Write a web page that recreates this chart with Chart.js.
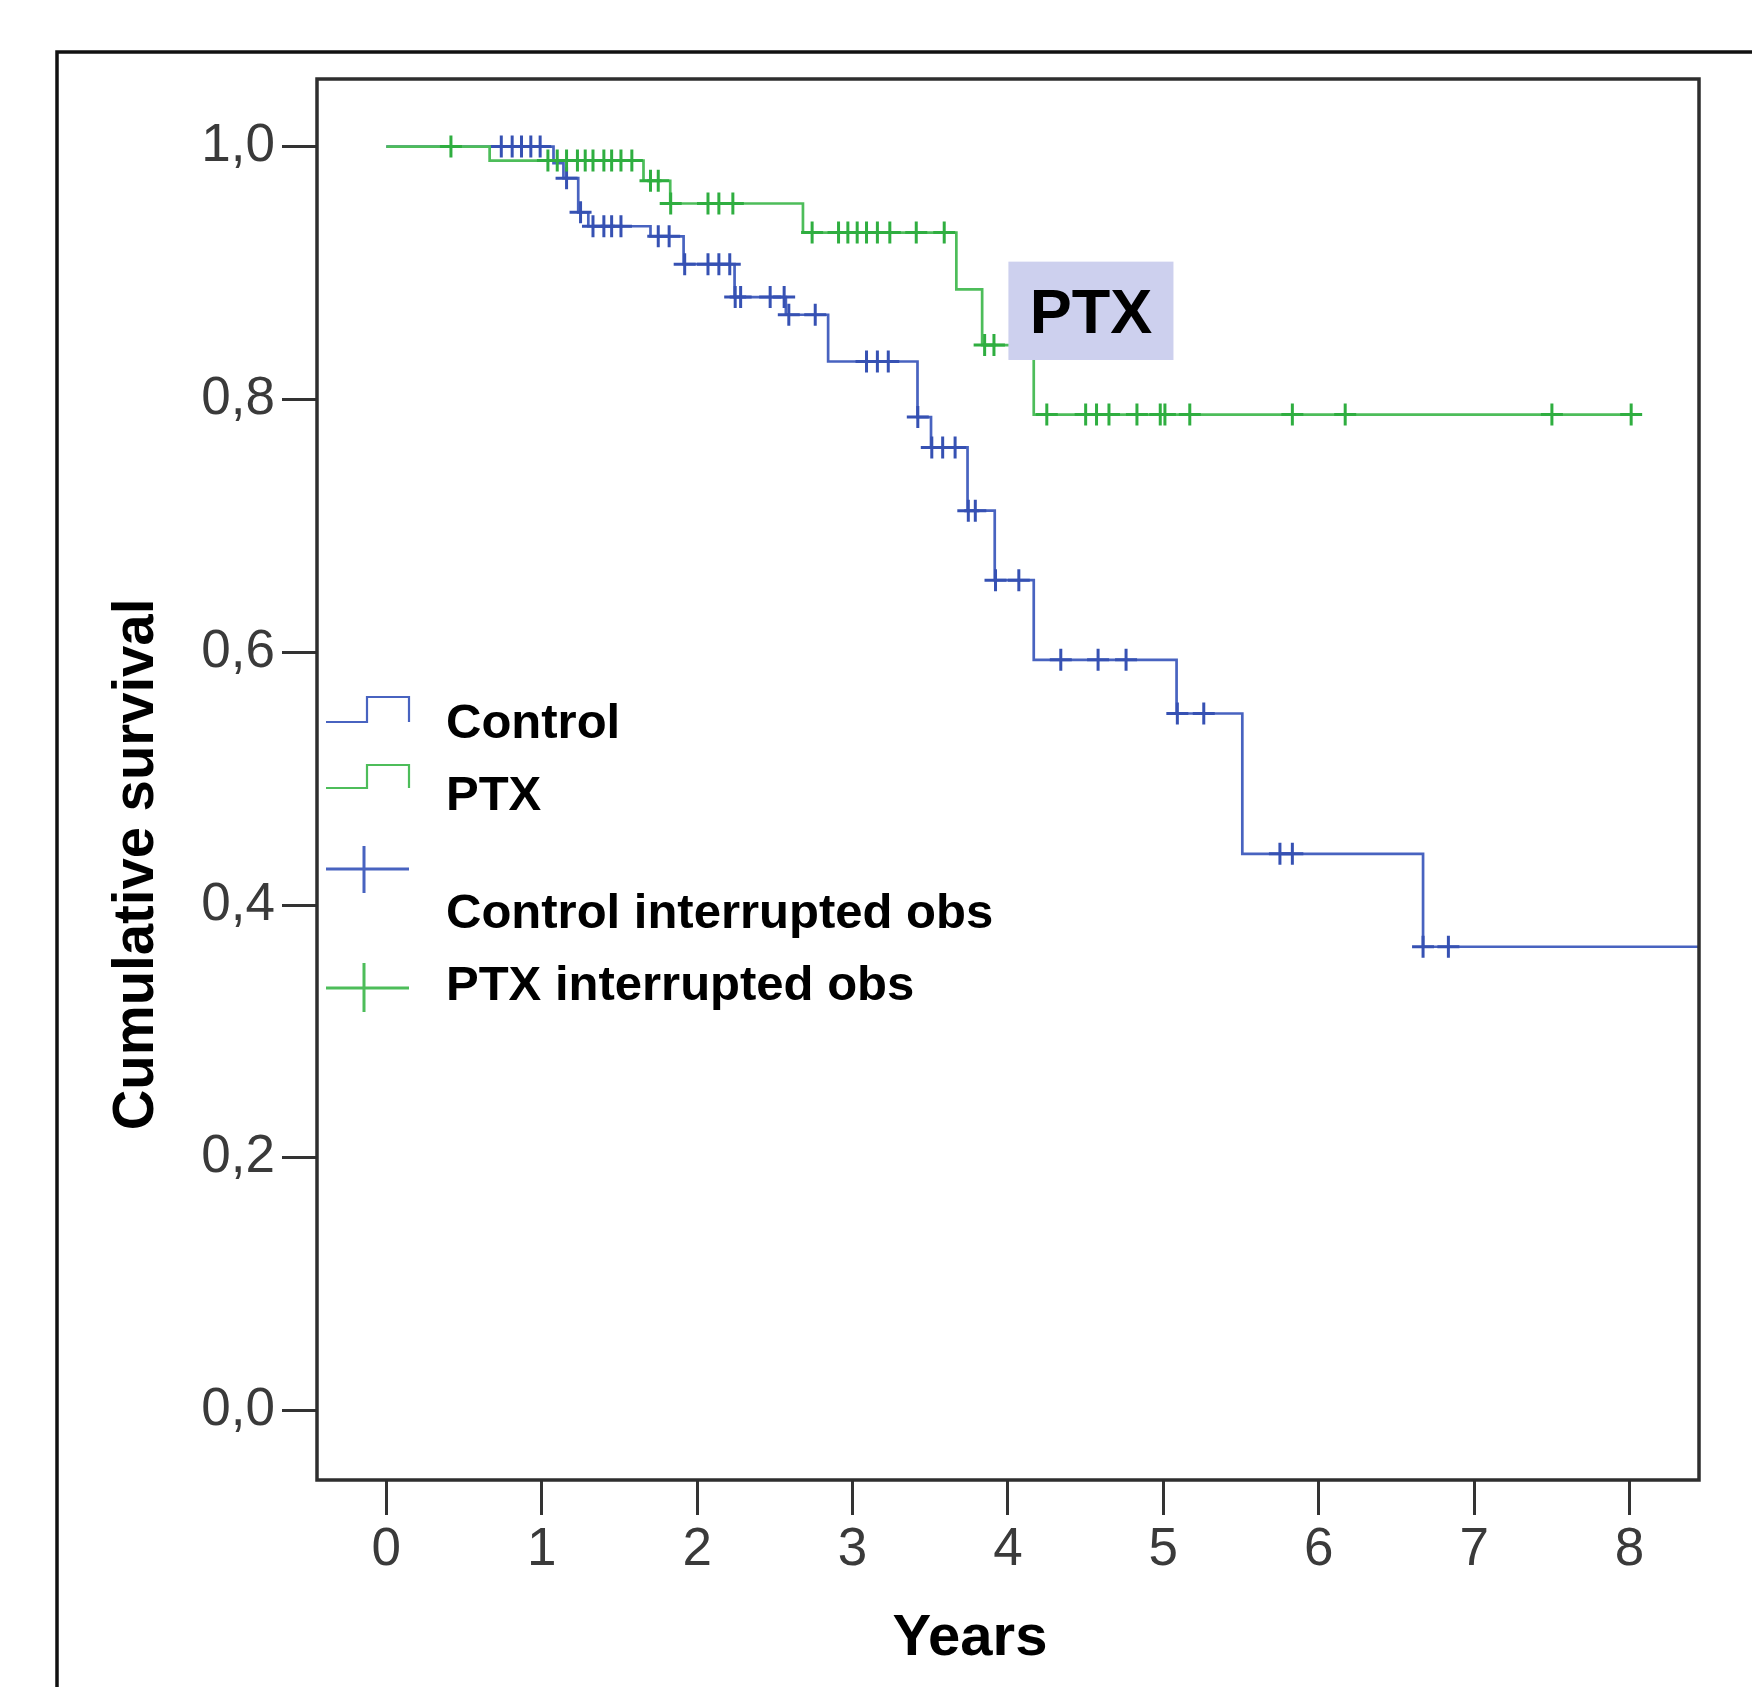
<!DOCTYPE html>
<html><head><meta charset="utf-8">
<script src="https://cdn.jsdelivr.net/npm/chart.js@4.4.1/dist/chart.umd.min.js"></script>
<style>html,body{margin:0;padding:0;background:#fff;} canvas{display:block;}</style>
</head><body>
<canvas id="c" width="1752" height="1687"></canvas>
<script>
// ---- data ----
const xTicks = [0, 1, 2, 3, 4, 5, 6, 7, 8];
const xTickLabels = ['0', '1', '2', '3', '4', '5', '6', '7', '8'];
const yTicks = [0, 0.2, 0.4, 0.6, 0.8, 1.0];
const yTickLabels = ['0,0', '0,2', '0,4', '0,6', '0,8', '1,0'];

// Control group: Kaplan-Meier step points (time in years, cumulative survival)
const controlTimes = [0, 1.076, 1.14, 1.235, 1.30, 1.70, 1.913, 2.241, 2.571, 2.843, 3.418, 3.505, 3.74, 3.915, 4.166, 5.085, 5.508, 6.671, 8.45];
const controlSurv  = [1.0, 0.987, 0.975, 0.948, 0.937, 0.929, 0.907, 0.881, 0.867, 0.830, 0.786, 0.762, 0.712, 0.657, 0.594, 0.5515, 0.4405, 0.367, 0.367];
const controlCensored = [0.74, 0.81, 0.87, 0.93, 0.99, 1.16, 1.25, 1.33, 1.40, 1.45, 1.51, 1.75, 1.82, 1.92, 2.07, 2.14, 2.21, 2.245, 2.28, 2.47, 2.56, 2.59, 2.76, 3.09, 3.16, 3.23, 3.42, 3.51, 3.58, 3.66, 3.745, 3.79, 3.92, 4.07, 4.34, 4.58, 4.76, 5.09, 5.26, 5.75, 5.83, 6.671, 6.834];

// PTX group
const ptxTimes = [0, 0.665, 1.655, 1.827, 2.681, 3.668, 3.834, 4.166, 8.01];
const ptxSurv  = [1.0, 0.989, 0.973, 0.955, 0.932, 0.887, 0.843, 0.788, 0.788];
const ptxCensored = [0.416, 1.04, 1.10, 1.16, 1.23, 1.28, 1.33, 1.40, 1.45, 1.51, 1.58, 1.70, 1.75, 1.83, 2.07, 2.14, 2.23, 2.74, 2.91, 2.97, 3.03, 3.09, 3.16, 3.24, 3.41, 3.59, 3.85, 3.91, 4.25, 4.50, 4.57, 4.65, 4.83, 4.98, 5.01, 5.17, 5.83, 6.17, 7.50, 8.01];

const seriesNames = ['Control', 'PTX', 'Control interrupted obs', 'PTX interrupted obs'];
const annotationText = 'PTX';
const xTitle = 'Years';
const yTitle = 'Cumulative survival';

// ---- helpers ----
function survAt(times, surv, t) {
  let v = surv[0];
  for (let i = 0; i < times.length; i++) { if (times[i] <= t + 1e-9) v = surv[i]; }
  return v;
}
const pts = (ts, ss) => ts.map((t, i) => ({x: t, y: ss[i]}));
const censorPts = (cs, ts, ss) => cs.map(t => ({x: t, y: survAt(ts, ss, t)}));

const BLUE_LINE = '#4863c0', BLUE_MARK = '#3651b3';
const GREEN_LINE = '#4dbd5a', GREEN_MARK = '#2fae40';
const FONT = "'Liberation Sans', Arial, sans-serif";

const decor = {
  id: 'decor',
  beforeDraw(chart) {
    const c = chart.ctx;
    c.save(); c.fillStyle = '#fff'; c.fillRect(0, 0, chart.width, chart.height); c.restore();
  },
  afterDatasetsDraw(chart) {
    const c = chart.ctx, xs = chart.scales.x, ys = chart.scales.y, ca = chart.chartArea;
    // annotation box
    const bx0 = xs.getPixelForValue(4.003), bx1 = xs.getPixelForValue(5.065);
    const by0 = ys.getPixelForValue(0.909), by1 = ys.getPixelForValue(0.8312);
    c.save();
    c.fillStyle = '#cdd0ee';
    c.fillRect(bx0, by0, bx1 - bx0, by1 - by0);
    c.fillStyle = '#000';
    c.font = 'bold 63px ' + FONT;
    c.textAlign = 'center'; c.textBaseline = 'alphabetic';
    c.fillText(annotationText, xs.getPixelForValue(4.535), ys.getPixelForValue(0.8528));
    c.restore();
    // plot frame
    c.save();
    c.strokeStyle = '#2e2e2e'; c.lineWidth = 3.5;
    c.strokeRect(ca.left, ca.top, ca.right - ca.left, ca.bottom - ca.top);
    c.restore();
  },
  afterDraw(chart) {
    const c = chart.ctx, ca = chart.chartArea;
    c.save();
    // outer frame (cropped at right & bottom)
    c.strokeStyle = '#111'; c.lineWidth = 3.5;
    c.beginPath(); c.moveTo(57, chart.height + 5); c.lineTo(57, 52); c.lineTo(chart.width + 5, 52); c.stroke();

    // axis titles
    c.fillStyle = '#000';
    c.font = 'bold 58px ' + FONT;
    c.textAlign = 'center'; c.textBaseline = 'alphabetic';
    c.fillText(xTitle, 970, 1655);
    c.save();
    c.translate(153, 864.5);
    c.rotate(-Math.PI / 2);
    c.font = 'bold 58px ' + FONT;
    c.scale(0.97, 1);
    c.fillText(yTitle, 0, 0);
    c.restore();

    // legend
    const lx0 = ca.left + 9, lxm = ca.left + 50, lx1 = ca.left + 92, tx = ca.left + 129;
    c.lineWidth = 2.2;
    c.strokeStyle = BLUE_LINE;
    c.beginPath(); c.moveTo(lx0, 722); c.lineTo(lxm, 722); c.lineTo(lxm, 697); c.lineTo(lx1, 697); c.lineTo(lx1, 722); c.stroke();
    c.strokeStyle = GREEN_LINE;
    c.beginPath(); c.moveTo(lx0, 788); c.lineTo(lxm, 788); c.lineTo(lxm, 765); c.lineTo(lx1, 765); c.lineTo(lx1, 788); c.stroke();
    c.strokeStyle = BLUE_LINE; c.lineWidth = 3;
    c.beginPath(); c.moveTo(lx0, 869); c.lineTo(lx1, 869); c.moveTo(ca.left + 47, 846); c.lineTo(ca.left + 47, 893); c.stroke();
    c.strokeStyle = GREEN_LINE;
    c.beginPath(); c.moveTo(lx0, 988); c.lineTo(lx1, 988); c.moveTo(ca.left + 47, 963); c.lineTo(ca.left + 47, 1012); c.stroke();

    c.fillStyle = '#000';
    c.font = 'bold 49px ' + FONT;
    c.textAlign = 'left'; c.textBaseline = 'alphabetic';
    c.fillText(seriesNames[0], tx, 738);
    c.fillText(seriesNames[1], tx, 810);
    c.fillText(seriesNames[2], tx, 928);
    c.fillText(seriesNames[3], tx, 1000);
    c.restore();
  }
};

const tickFont = {family: FONT, size: 53};

new Chart(document.getElementById('c'), {
  type: 'scatter',
  data: {
    datasets: [
      {label: seriesNames[3], data: censorPts(ptxCensored, ptxTimes, ptxSurv), showLine: false,
       pointStyle: 'cross', pointRadius: 11, pointHoverRadius: 11, pointBorderWidth: 3,
       borderColor: GREEN_MARK, backgroundColor: GREEN_MARK, order: 0},
      {label: seriesNames[1], data: pts(ptxTimes, ptxSurv), showLine: true, stepped: 'before',
       borderColor: GREEN_LINE, borderWidth: 2.7, pointRadius: 0, pointHoverRadius: 0, fill: false, order: 1},
      {label: seriesNames[2], data: censorPts(controlCensored, controlTimes, controlSurv), showLine: false,
       pointStyle: 'cross', pointRadius: 11, pointHoverRadius: 11, pointBorderWidth: 3,
       borderColor: BLUE_MARK, backgroundColor: BLUE_MARK, order: 2},
      {label: seriesNames[0], data: pts(controlTimes, controlSurv), showLine: true, stepped: 'before',
       borderColor: BLUE_LINE, borderWidth: 2.7, pointRadius: 0, pointHoverRadius: 0, fill: false, order: 3}
    ]
  },
  options: {
    responsive: false,
    animation: false,
    devicePixelRatio: 1,
    layout: {padding: {left: 0, top: 79, right: 53, bottom: 87}},
    plugins: {legend: {display: false}, tooltip: {enabled: false}},
    scales: {
      x: {
        type: 'linear', min: -0.4458, max: 8.4465,
        afterBuildTicks: s => { s.ticks = xTicks.map(v => ({value: v})); },
        afterFit: s => { s.height = 120; },
        border: {display: false},
        grid: {display: true, drawOnChartArea: false, drawTicks: true, tickLength: 35, tickWidth: 3, tickColor: '#333'},
        ticks: {font: tickFont, color: '#3a3a3a', padding: 4, maxRotation: 0, autoSkip: false,
                callback: (v, i) => xTickLabels[i]}
      },
      y: {
        type: 'linear', min: -0.0549, max: 1.0535,
        afterBuildTicks: s => { s.ticks = yTicks.map(v => ({value: v})); },
        afterFit: s => { s.width = 317; },
        border: {display: false},
        grid: {display: true, drawOnChartArea: false, drawTicks: true, tickLength: 35, tickWidth: 3, tickColor: '#333'},
        ticks: {font: tickFont, color: '#3a3a3a', padding: 7, autoSkip: false,
                callback: (v, i) => yTickLabels[i]}
      }
    }
  },
  plugins: [decor]
});
</script>
</body></html>
